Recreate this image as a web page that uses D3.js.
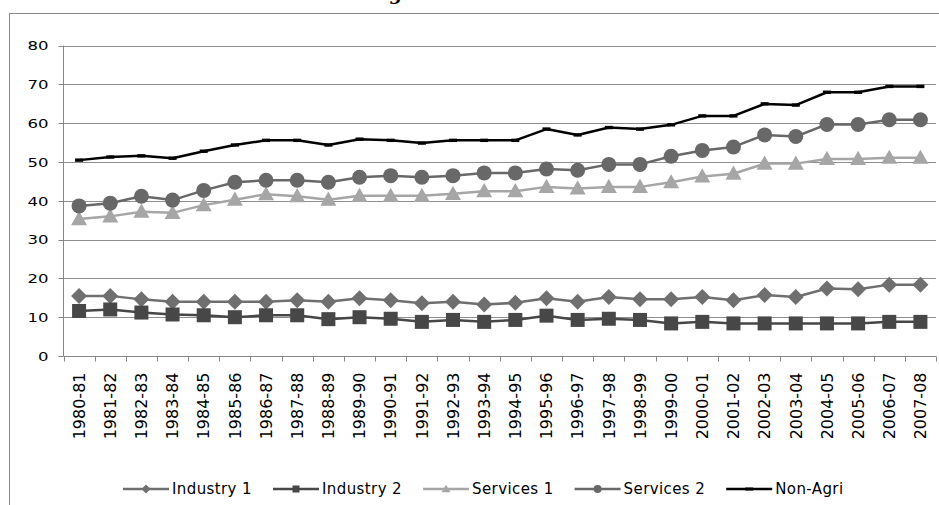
<!DOCTYPE html>
<html><head><meta charset="utf-8">
<script src="https://cdn.jsdelivr.net/npm/d3@7"></script>
<style>
html,body{margin:0;padding:0;background:#fff;}
svg{display:block;}
</style></head>
<body>
<svg id="chart" width="939" height="505"></svg>
<script>
const categories = ["1980-81","1981-82","1982-83","1983-84","1984-85","1985-86","1986-87","1987-88","1988-89","1989-90","1990-91","1991-92","1992-93","1993-94","1994-95","1995-96","1996-97","1997-98","1998-99","1999-00","2000-01","2001-02","2002-03","2003-04","2004-05","2005-06","2006-07","2007-08"];
const industry1 = [15.5,15.5,14.6,14.0,14.0,14.0,14.0,14.4,14.0,14.9,14.4,13.6,14.0,13.3,13.7,14.9,14.0,15.2,14.6,14.6,15.2,14.4,15.7,15.2,17.4,17.2,18.4,18.4];
const industry2 = [11.6,12.0,11.2,10.7,10.5,10.0,10.5,10.5,9.5,10.0,9.6,8.8,9.3,8.8,9.3,10.4,9.3,9.6,9.3,8.4,8.8,8.4,8.4,8.4,8.4,8.4,8.8,8.8];
const services1 = [35.3,36.0,37.2,36.9,38.9,40.3,41.7,41.2,40.3,41.3,41.3,41.3,41.8,42.5,42.5,43.6,43.2,43.6,43.6,44.8,46.3,47.0,49.6,49.6,50.8,50.8,51.1,51.1];
const services2 = [38.7,39.4,41.2,40.2,42.7,44.8,45.3,45.3,44.8,46.1,46.5,46.1,46.5,47.2,47.2,48.2,47.9,49.4,49.4,51.5,53.0,53.9,57.0,56.6,59.7,59.7,60.9,60.9];
const nonAgri = [50.5,51.3,51.6,51.0,52.8,54.4,55.6,55.6,54.4,55.9,55.6,54.9,55.6,55.6,55.6,58.5,57.0,58.9,58.5,59.6,61.9,61.9,65.0,64.7,68.0,68.0,69.5,69.5];
const seriesNames = ["Industry 1","Industry 2","Services 1","Services 2","Non-Agri"];
const yTicks = [0,10,20,30,40,50,60,70,80];
const titleText = "Non-Agriculture Share";

const series = [
  {name: seriesNames[0], values: industry1, color: "#6f6f6f", marker: "diamond"},
  {name: seriesNames[1], values: industry2, color: "#474747", marker: "square"},
  {name: seriesNames[2], values: services1, color: "#a6a6a6", marker: "triangle"},
  {name: seriesNames[3], values: services2, color: "#686868", marker: "circle"},
  {name: seriesNames[4], values: nonAgri, color: "#000000", marker: "dash"}
];

const svg = d3.select("#chart");
const FONT = "'DejaVu Sans', sans-serif";
const gridColor = "#8e8e8e";

// outer frame (left & top edges visible)
svg.append("path").attr("d","M9.5,505 V13.5 H939").attr("fill","none").attr("stroke","#878787").attr("stroke-width",1);

// title, cut off by the top edge as in the reference
const title = svg.append("text").text(titleText)
  .attr("y", 0).attr("font-family","'DejaVu Serif', serif").attr("font-style","italic").attr("font-weight","bold")
  .attr("font-size",18).attr("fill","#000").attr("x",0);
{
  const n = title.node();
  const p = n.getStartPositionOfChar(5).x;
  const e = n.getEndPositionOfChar(5).x;
  title.attr("x", 396 - (p + e)/2);
}

const x = d3.scaleBand().domain(categories).range([63.5, 936]);
const y = d3.scaleLinear().domain([0,80]).range([356, 45.7]);

// gridlines
svg.append("g").selectAll("line").data(yTicks.filter(d=>d>0)).join("line")
  .attr("x1",63.5).attr("x2",936).attr("y1",d=>Math.round(y(d))+0.5).attr("y2",d=>Math.round(y(d))+0.5)
  .attr("stroke",gridColor).attr("stroke-width",1);

// y axis
const yAxis = svg.append("g").attr("transform","translate(63.5,0)");
yAxis.append("line").attr("x1",0).attr("x2",0).attr("y1",y(80)).attr("y2",y(0)).attr("stroke","#868686");
yAxis.selectAll("line.t").data(yTicks).join("line").attr("class","t")
  .attr("x1",-5).attr("x2",0).attr("y1",d=>Math.round(y(d))+0.5).attr("y2",d=>Math.round(y(d))+0.5).attr("stroke","#868686");
yAxis.selectAll("text").data(yTicks).join("text")
  .attr("transform",d=>`translate(-15,${y(d)}) scale(1.27,1)`)
  .attr("text-anchor","end").attr("dy","0.36em")
  .attr("font-family",FONT).attr("font-size",13).attr("fill","#000")
  .text(d=>d);

// x axis
const xAxis = svg.append("g").attr("transform",`translate(0,${Math.round(y(0))+0.5})`);
xAxis.append("line").attr("x1",63.5).attr("x2",936).attr("stroke","#868686");
const bounds = categories.map(c=>x(c)).concat([x(categories[categories.length-1])+x.bandwidth()]);
xAxis.selectAll("line.t").data(bounds).join("line").attr("class","t")
  .attr("x1",d=>Math.round(d)+0.5).attr("x2",d=>Math.round(d)+0.5).attr("y1",0).attr("y2",5).attr("stroke","#868686");
xAxis.selectAll("text").data(categories).join("text")
  .attr("transform",d=>`translate(${x(d)+x.bandwidth()/2},16) rotate(-90)`)
  .attr("text-anchor","end").attr("dy","0.36em")
  .attr("font-family",FONT).attr("font-size",16).attr("fill","#000")
  .text(d=>d);

// marker drawing
function drawMarker(g, type, color, size) {
  const s = size;
  if (type === "circle") {
    g.append("circle").attr("r", s/2).attr("fill", color);
  } else if (type === "square") {
    const q = s - 1;
    g.append("rect").attr("x",-q/2).attr("y",-q/2).attr("width",q).attr("height",q).attr("fill",color);
  } else if (type === "diamond") {
    const h = s/2 + 0.5;
    g.append("path").attr("d",`M0,${-h} L${h},0 L0,${h} L${-h},0 Z`).attr("fill",color);
  } else if (type === "triangle") {
    const w = s/2 + 0.5, hh = s*0.9;
    g.append("path").attr("d",`M0,${-hh*0.6} L${w},${hh*0.45} L${-w},${hh*0.45} Z`).attr("fill",color);
  } else if (type === "dash") {
    g.append("rect").attr("x",-4).attr("y",-1.7).attr("width",8).attr("height",3.4).attr("fill",color);
  }
}

const line = d3.line().x((d,i)=>x(categories[i])+x.bandwidth()/2).y(d=>y(d));
const order = [2,3,4,0,1];
order.forEach(k=>{
  const s = series[k];
  const g = svg.append("g");
  g.append("path").attr("d", line(s.values)).attr("fill","none").attr("stroke",s.color)
    .attr("stroke-width", 2.5).attr("stroke-linejoin","round");
  s.values.forEach((v,i)=>{
    const m = g.append("g").attr("transform",`translate(${x(categories[i])+x.bandwidth()/2},${y(v)})`);
    drawMarker(m, s.marker, s.color, 15);
  });
});

// legend
const legend = svg.append("g").attr("transform","translate(0,489)");
let cx = 123;
series.forEach(s=>{
  const g = legend.append("g").attr("transform",`translate(${cx},0)`);
  g.append("line").attr("x1",0).attr("x2",46).attr("y1",0).attr("y2",0).attr("stroke",s.color).attr("stroke-width",2.5);
  const m = g.append("g").attr("transform","translate(23,0)");
  if (s.marker === "dash") {
    m.append("rect").attr("x",-4).attr("y",-1.5).attr("width",8).attr("height",3).attr("fill",s.color);
  } else {
    drawMarker(m, s.marker, s.color, 8);
  }
  const t = g.append("text").attr("x",49).attr("dy","0.36em")
    .attr("font-family",FONT).attr("font-size",15).attr("fill","#000").attr("letter-spacing",0.4).text(s.name);
  cx += 49 + t.node().getComputedTextLength() + 21;
});
</script>
</body></html>
